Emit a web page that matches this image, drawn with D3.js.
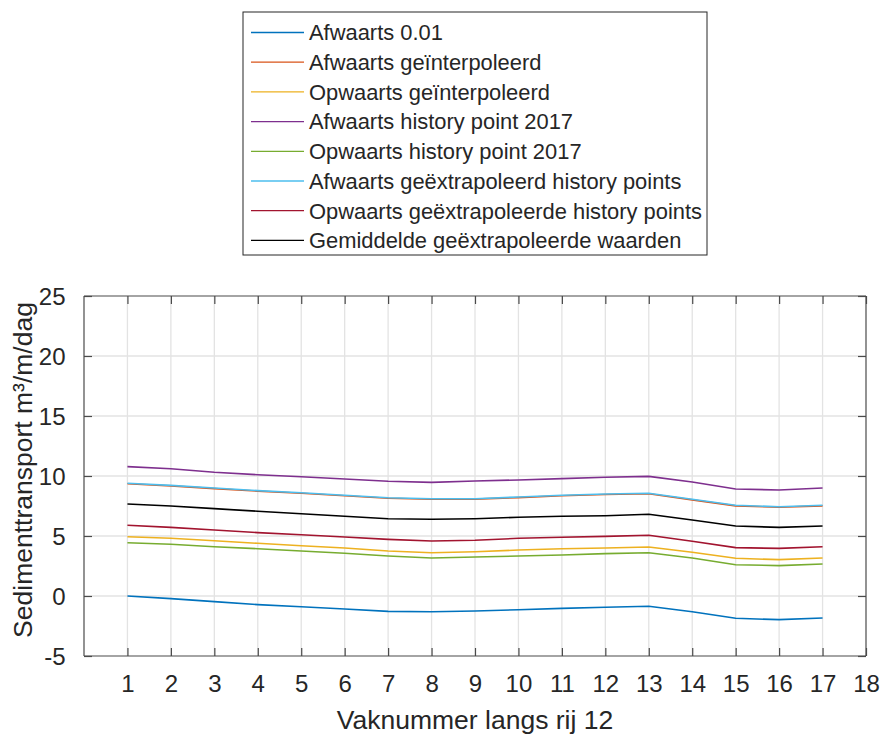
<!DOCTYPE html>
<html>
<head>
<meta charset="utf-8">
<script src="https://cdn.jsdelivr.net/npm/d3@7"></script>
<style>
  html, body { margin: 0; padding: 0; background: #fff; }
  svg text { font-family: "Liberation Sans", Arial, Helvetica, sans-serif; fill: #262626; }
</style>
</head>
<body>
<svg id="chart" width="881" height="734"></svg>
<script>
// Vak numbers along row 12
const vakken = [1, 2, 3, 4, 5, 6, 7, 8, 9, 10, 11, 12, 13, 14, 15, 16, 17];

// Sediment transport per vak (m³/m/dag)
const afwaarts001      = [0.00, -0.22, -0.47, -0.72, -0.89, -1.08, -1.28, -1.31, -1.25, -1.14, -1.03, -0.94, -0.86, -1.31, -1.86, -1.97, -1.83];
const afwaartsInterp   = [9.35, 9.18, 8.95, 8.74, 8.56, 8.35, 8.15, 8.06, 8.07, 8.20, 8.35, 8.46, 8.52, 8.01, 7.51, 7.39, 7.51];
const opwaartsInterp   = [4.94, 4.81, 4.61, 4.39, 4.19, 4.00, 3.75, 3.61, 3.69, 3.83, 3.94, 4.00, 4.08, 3.64, 3.14, 3.03, 3.17];
const afwaartsHist2017 = [10.78, 10.61, 10.31, 10.11, 9.94, 9.75, 9.56, 9.47, 9.58, 9.67, 9.78, 9.89, 9.97, 9.50, 8.92, 8.83, 9.00];
const opwaartsHist2017 = [4.44, 4.31, 4.11, 3.94, 3.75, 3.56, 3.33, 3.17, 3.25, 3.33, 3.42, 3.53, 3.61, 3.17, 2.61, 2.53, 2.67];
const afwaartsExtrap   = [9.39, 9.22, 9.00, 8.78, 8.61, 8.39, 8.19, 8.11, 8.11, 8.25, 8.39, 8.50, 8.56, 8.06, 7.56, 7.44, 7.56];
const opwaartsExtrap   = [5.89, 5.72, 5.50, 5.28, 5.11, 4.92, 4.72, 4.58, 4.64, 4.81, 4.89, 4.97, 5.06, 4.56, 4.03, 3.97, 4.11];
const gemiddeldExtrap  = [7.67, 7.50, 7.28, 7.06, 6.86, 6.64, 6.44, 6.39, 6.44, 6.56, 6.64, 6.69, 6.81, 6.33, 5.83, 5.72, 5.83];

const seriesNames = [
  "Afwaarts 0.01",
  "Afwaarts geïnterpoleerd",
  "Opwaarts geïnterpoleerd",
  "Afwaarts history point 2017",
  "Opwaarts history point 2017",
  "Afwaarts geëxtrapoleerd history points",
  "Opwaarts geëxtrapoleerde history points",
  "Gemiddelde geëxtrapoleerde waarden"
];
const seriesValues = [afwaarts001, afwaartsInterp, opwaartsInterp, afwaartsHist2017,
                      opwaartsHist2017, afwaartsExtrap, opwaartsExtrap, gemiddeldExtrap];
const seriesColors = ["#0072BD", "#D95319", "#EDB120", "#7E2F8E", "#77AC30", "#4DBEEE", "#A2142F", "#000000"];

const xTicks = d3.range(1, 19);
const yTicks = [-5, 0, 5, 10, 15, 20, 25];

const svg = d3.select("#chart");
const plot = { left: 84, right: 866, top: 296, bottom: 656 };

const x = d3.scaleLinear().domain([0, 18]).range([plot.left, plot.right]);
const y = d3.scaleLinear().domain([-5, 25]).range([plot.bottom, plot.top]);

// plain hyphen for negative tick labels
const fmt = d => String(d);

// grid
const grid = svg.append("g");
grid.selectAll("line.gx").data(xTicks.filter(t => t < 18)).enter().append("line")
  .attr("x1", d => x(d)).attr("x2", d => x(d))
  .attr("y1", plot.top).attr("y2", plot.bottom)
  .attr("stroke", "#e3e3e3").attr("stroke-width", 1.3);
grid.selectAll("line.gy").data(yTicks.filter(t => t > -5 && t < 25)).enter().append("line")
  .attr("x1", plot.left).attr("x2", plot.right)
  .attr("y1", d => y(d)).attr("y2", d => y(d))
  .attr("stroke", "#e3e3e3").attr("stroke-width", 1.3);

// data lines
const line = d3.line().x((d, i) => x(vakken[i])).y(d => y(d));
svg.append("g").selectAll("path").data(seriesValues).enter().append("path")
  .attr("d", d => line(d))
  .attr("fill", "none")
  .attr("stroke", (d, i) => seriesColors[i])
  .attr("stroke-width", 1.6)
  .attr("stroke-linejoin", "round");

// axes (ticks pointing inward, box on)
const tickLen = 8;
const axisColor = "#4a4a4a";
const xb = svg.append("g").attr("transform", `translate(0,${plot.bottom})`)
  .call(d3.axisBottom(x).tickValues(xTicks).tickSize(-tickLen).tickFormat(fmt));
const xt = svg.append("g").attr("transform", `translate(0,${plot.top})`)
  .call(d3.axisTop(x).tickValues(xTicks).tickSize(-tickLen).tickFormat(""));
const yl = svg.append("g").attr("transform", `translate(${plot.left},0)`)
  .call(d3.axisLeft(y).tickValues(yTicks).tickSize(-tickLen).tickPadding(tickLen + 10.5).tickFormat(fmt));
const yr = svg.append("g").attr("transform", `translate(${plot.right},0)`)
  .call(d3.axisRight(y).tickValues(yTicks).tickSize(-tickLen).tickFormat(""));

[xb, xt, yl, yr].forEach(g => {
  g.select(".domain").attr("stroke", axisColor).attr("stroke-width", 1.2);
  g.selectAll(".tick line").attr("stroke", axisColor).attr("stroke-width", 1.2);
  g.selectAll(".tick text").style("font-size", "24px").attr("fill", "#262626");
});
xb.selectAll(".domain").attr("d", `M${plot.left},0H${plot.right}`);
xt.selectAll(".domain").attr("d", `M${plot.left},0H${plot.right}`);
yl.selectAll(".domain").attr("d", `M0,${plot.bottom}V${plot.top}`);
yr.selectAll(".domain").attr("d", `M0,${plot.bottom}V${plot.top}`);
xb.selectAll(".tick text").attr("dy", null).attr("y", 36);
yl.selectAll(".tick text").attr("dy", "0.36em");

// axis labels
svg.append("text")
  .attr("x", (plot.left + plot.right) / 2).attr("y", 729)
  .attr("text-anchor", "middle").style("font-size", "26.5px")
  .text("Vaknummer langs rij 12");
svg.append("text")
  .attr("transform", `translate(32,${(plot.top + plot.bottom) / 2 - 6}) rotate(-90)`)
  .attr("text-anchor", "middle").style("font-size", "26.5px")
  .text("Sedimenttransport m³/m/dag");

// legend
const lg = svg.append("g");
lg.append("rect").attr("x", 243).attr("y", 12).attr("width", 464).attr("height", 243)
  .attr("fill", "#fff").attr("stroke", "#262626").attr("stroke-width", 1);
const rows = lg.selectAll("g.row").data(seriesNames).enter().append("g")
  .attr("transform", (d, i) => `translate(0,${32.5 + i * 29.7})`);
rows.append("line").attr("x1", 251).attr("x2", 304).attr("y1", 0).attr("y2", 0)
  .attr("stroke", (d, i) => seriesColors[i]).attr("stroke-width", 1.3);
rows.append("text").attr("x", 309).attr("y", 0).attr("dy", "0.36em")
  .style("font-size", "21.9px").text(d => d);
</script>
</body>
</html>
